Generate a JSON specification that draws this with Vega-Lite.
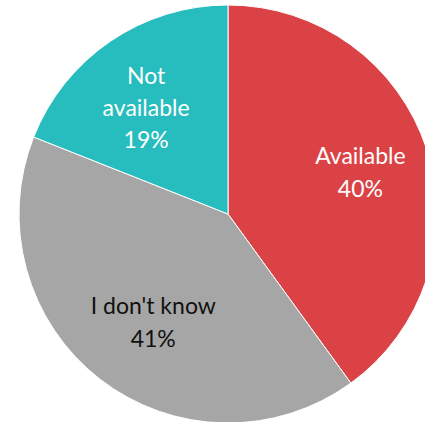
{
  "$schema": "https://vega.github.io/schema/vega-lite/v6.json",
  "autosize": "none",
  "padding": {"left": 31, "top": 6, "right": 0, "bottom": 0},
  "width": 394,
  "height": 416,
  "background": "white",
  "view": {"stroke": null},
  "data": {
    "values": [
      {"category": "Available", "pct": 40, "order": 1, "label": "Available\n40%"},
      {"category": "I don't know", "pct": 41, "order": 2, "label": "I don't know\n41%"},
      {"category": "Not available", "pct": 19, "order": 3, "label": "Not\navailable\n19%"}
    ]
  },
  "encoding": {
    "theta": {"field": "pct", "type": "quantitative", "stack": true},
    "order": {"field": "order", "type": "quantitative"}
  },
  "layer": [
    {
      "mark": {"type": "arc", "outerRadius": 209, "stroke": "white", "strokeWidth": 1},
      "encoding": {
        "color": {
          "field": "category",
          "type": "nominal",
          "scale": {"domain": ["Available", "I don't know", "Not available"], "range": ["#DB4245", "#A6A6A6", "#27BCBE"]},
          "legend": null
        }
      }
    },
    {
      "mark": {"type": "text", "radius": 135, "dx": 4, "dy": -15, "font": "Lato", "fontSize": 23, "lineBreak": "\n", "lineHeight": 33, "align": "center", "baseline": "middle", "color": "white"},
      "encoding": {"text": {"condition": {"test": "datum.category === 'Available'", "field": "label"}, "value": ""}}
    },
    {
      "mark": {"type": "text", "radius": 135, "dx": 8, "dy": -14, "font": "Lato", "fontSize": 23, "lineBreak": "\n", "lineHeight": 33, "align": "center", "baseline": "middle", "color": "#111111"},
      "encoding": {"text": {"condition": {"test": "datum.category === \"I don't know\"", "field": "label"}, "value": ""}}
    },
    {
      "mark": {"type": "text", "radius": 135, "dx": -6, "dy": -25, "font": "Lato", "fontSize": 23, "lineBreak": "\n", "lineHeight": 32, "align": "center", "baseline": "middle", "color": "white"},
      "encoding": {"text": {"condition": {"test": "datum.category === 'Not available'", "field": "label"}, "value": ""}}
    }
  ]
}
